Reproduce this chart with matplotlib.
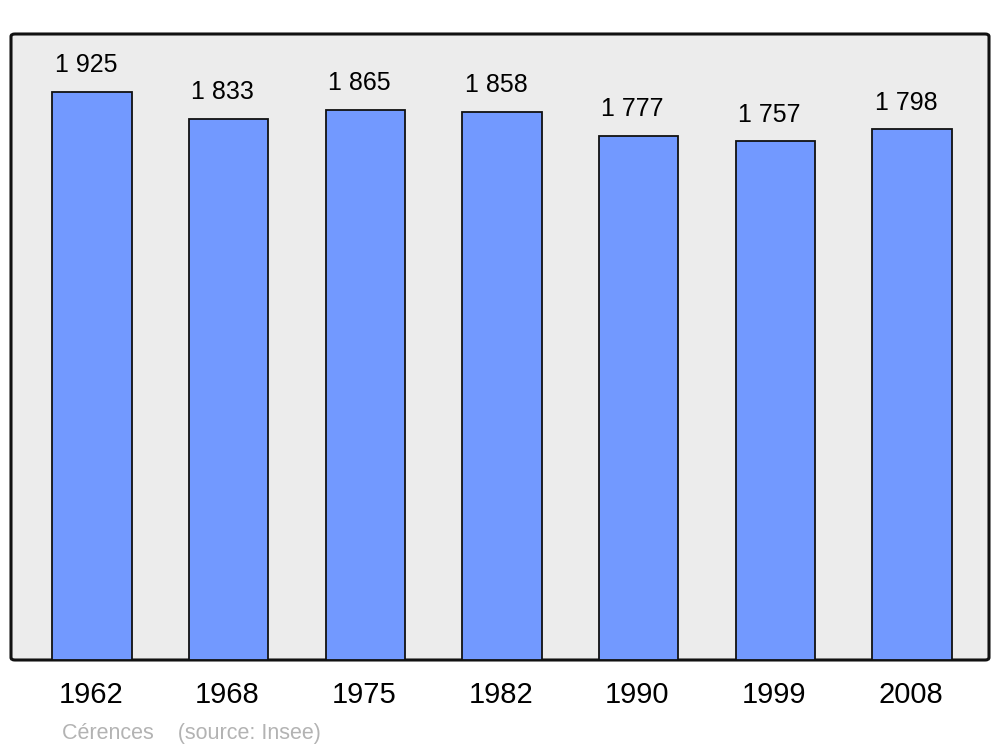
import matplotlib.pyplot as plt
from matplotlib.patches import FancyBboxPatch

# Data
years = ['1962', '1968', '1975', '1982', '1990', '1999', '2008']
population = [1925, 1833, 1865, 1858, 1777, 1757, 1798]
town = 'Cérences'
source = '(source: Insee)'

plt.rcParams['font.family'] = ['Liberation Sans', 'DejaVu Sans']

fig = plt.figure(figsize=(10, 7.47), dpi=100)
# axes box in pixels: x 11..989, y 34..660
ax = fig.add_axes([11 / 1000, 1 - 660 / 747, 978 / 1000, 626 / 747])
ax.set_facecolor('none')

# rounded frame behind the bars
frame = FancyBboxPatch((0, 0), 1, 1, boxstyle='round,pad=0,rounding_size=0.004',
                       transform=ax.transAxes, facecolor='#ececec',
                       edgecolor='#111111', linewidth=2.2, zorder=0,
                       clip_on=False)
ax.add_patch(frame)

x = range(len(years))
bars = ax.bar(x, population, width=0.58, color='#7299ff', edgecolor='#111111',
              linewidth=1.3, zorder=2)

for xi, v in zip(x, population):
    label = f'{v:,}'.replace(',', ' ')
    ax.text(xi - 0.045, v + 50, label, ha='center', va='bottom', fontsize=18,
            color='black', zorder=3)

ax.set_xlim(-0.593, 6.563)
ax.set_ylim(0, 2121)
ax.set_xticks([])
ax.set_yticks([])
for s in ax.spines.values():
    s.set_visible(False)

for xi, yr in zip(x, years):
    ax.text(xi - 0.01, -0.0565, yr, transform=ax.get_xaxis_transform(),
            ha='center', va='center', fontsize=21, color='black')

fig.text(62 / 1000, 1 - 733 / 747, town + '    ' + source, ha='left', va='center',
         fontsize=15.5, color='#b3b3b3')

fig.savefig('out.png', dpi=100, facecolor='white')
